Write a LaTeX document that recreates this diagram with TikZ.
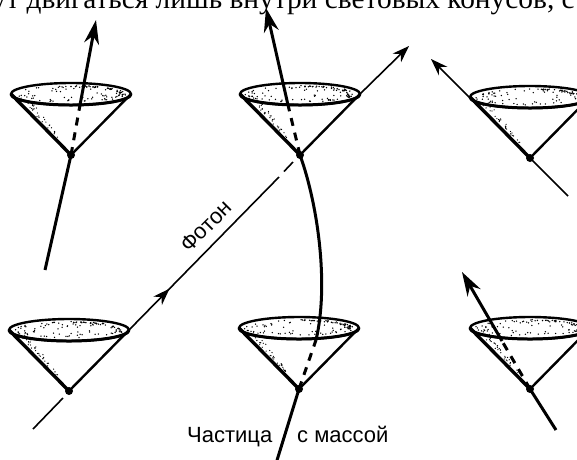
\documentclass[tikz,border=0pt]{standalone}
\usepackage{fontspec}
\setmainfont{Liberation Serif}
\newfontfamily\labelfont{Liberation Sans}
\usetikzlibrary{arrows.meta,decorations.markings}

\begin{document}
\begin{tikzpicture}[x=1pt,y=-1pt,
	world/.style={line width=3pt},
	hidden/.style={line width=3pt,dash pattern=on 8pt off 7pt},
	photon/.style={line width=1.6pt},
	wtip/.style={-{Stealth[length=24pt,width=15pt]}},
	ptip/.style={-{Stealth[length=17pt,width=12pt]}},
	label/.style={font=\labelfont\fontsize{22}{26}\selectfont,inner sep=0pt},
	midarrow/.style={postaction={decorate},decoration={markings,
		mark=at position #1 with {\arrow{Stealth[length=17pt,width=12pt]}}}},
	lightcone/.pic={
		\coordinate (-apex) at (0,0);
		\coordinate (-right) at (60,-61);
		\fill[white] (-60,-61) -- (0,0) -- (60,-61) -- cycle;
		\fill[white] (0,-61) ellipse (60 and 11);
		\foreach \i in {1,...,70}{
			\pgfmathsetmacro\cang{360*rnd}
			\pgfmathsetmacro\crad{1-0.8*rnd*rnd}
			\pgfmathsetmacro\cx{\crad*55*cos(\cang)}
			\pgfmathsetmacro\cy{-61+\crad*8*sin(\cang)}
			\fill (\cx,\cy) circle (0.75);
		}
		% heavier stipple along the far right rim
		\foreach \i in {1,...,35}{
			\pgfmathsetmacro\cang{-90+110*rnd}
			\pgfmathsetmacro\crad{0.82+0.13*rnd}
			\pgfmathsetmacro\cx{\crad*57*cos(\cang)}
			\pgfmathsetmacro\cy{-61+\crad*9*sin(\cang)}
			\fill (\cx,\cy) circle (0.8);
		}
		\foreach \i in {1,...,34}{
			\pgfmathsetmacro\cf{0.25+0.7*rnd}
			\pgfmathsetmacro\cx{-57*\cf+10*rnd*\cf+2}
			\pgfmathsetmacro\cy{-61*\cf}
			\fill (\cx,\cy) circle (0.65);
		}
		\draw[line width=2.4pt] (0,-61) ellipse (60 and 11);
		\draw[line width=3pt] (60,-61) arc[start angle=0,end angle=180,x radius=60,y radius=11];
		\draw[line width=3.4pt] (-60,-61) -- (0,0);
		\draw[line width=2.4pt] (60,-61) -- (0,0);
		\fill (0,0) circle (4);
	}]
	\pgfmathsetseed{7}
	\useasboundingbox (0,0) rectangle (577,459);
	\clip (0,0) rectangle (577,459);
	
	% line of the page above
	\node[anchor=base east,inner sep=0pt,font=\fontsize{29.4}{34}\selectfont] (head) at (575,8) {ут двигаться лишь внутри световых конусов, с};
	
	% cones
	\pic (c1) at (71,155) {lightcone};
	\pic (c2) at (300,155) {lightcone};
	\pic (c3) at (530,158) {lightcone};
	\pic (c4) at (69,391) {lightcone};
	\pic (c5) at (299,389) {lightcone};
	\pic (c6) at (530,389) {lightcone};
	
	% free ends
	\coordinate (b1) at (45,270); \coordinate (e1) at (80,105); \coordinate (t1) at (96,20);
	\coordinate (e2) at (288,105); \coordinate (t2) at (266,8);
	\coordinate (e5) at (316,340); \coordinate (b5) at (274,470);
	\coordinate (b6) at (556,430); \coordinate (e6) at (502,341); \coordinate (t6) at (462,272);
	\coordinate (ph0) at (33,429); \coordinate (ph1) at (63,398);
	\coordinate (ph2) at (279,177); \coordinate (ph3) at (284,171.5); \coordinate (ph4) at (293,162);
	\coordinate (ph5) at (409,46);
	\coordinate (ph6) at (568,196); \coordinate (ph7) at (431,59);
	
	% particle at rest
	\draw[world] (b1) -- (c1-apex);
	\draw[hidden] (c1-apex) -- (e1);
	\draw[world,wtip] (e1) -- (t1);
	
	% particle with mass
	\draw[world] (b5) -- (c5-apex);
	\draw[hidden] (c5-apex) -- (e5);
	\draw[world] (e5) .. controls (329,285) and (318,205) .. (c2-apex);
	\draw[hidden] (c2-apex) -- (e2);
	\draw[world,wtip] (e2) -- (t2);
	
	\draw[world] (b6) -- (c6-apex);
	\draw[hidden] (c6-apex) -- (e6);
	\draw[world,wtip] (e6) -- (t6);
	
	% photons
	\draw[photon] (ph0) -- (ph1);
	\draw[photon,midarrow=0.27] (c4-right) -- (ph2);
	\draw[photon] (ph3) -- (ph4);
	\draw[photon,ptip] (c2-right) -- (ph5);
	\draw[photon,ptip] (ph6) -- (c3-apex) -- (ph7);
	
	\node[label,rotate=45] (photonlbl) at (206,226) {Фотон};
	\node[label,anchor=base west] (partlbl) at (187,442) {Частица};
	\node[label,anchor=base west] (masslbl) at (297,442) {с массой};
\end{tikzpicture}
\end{document}
